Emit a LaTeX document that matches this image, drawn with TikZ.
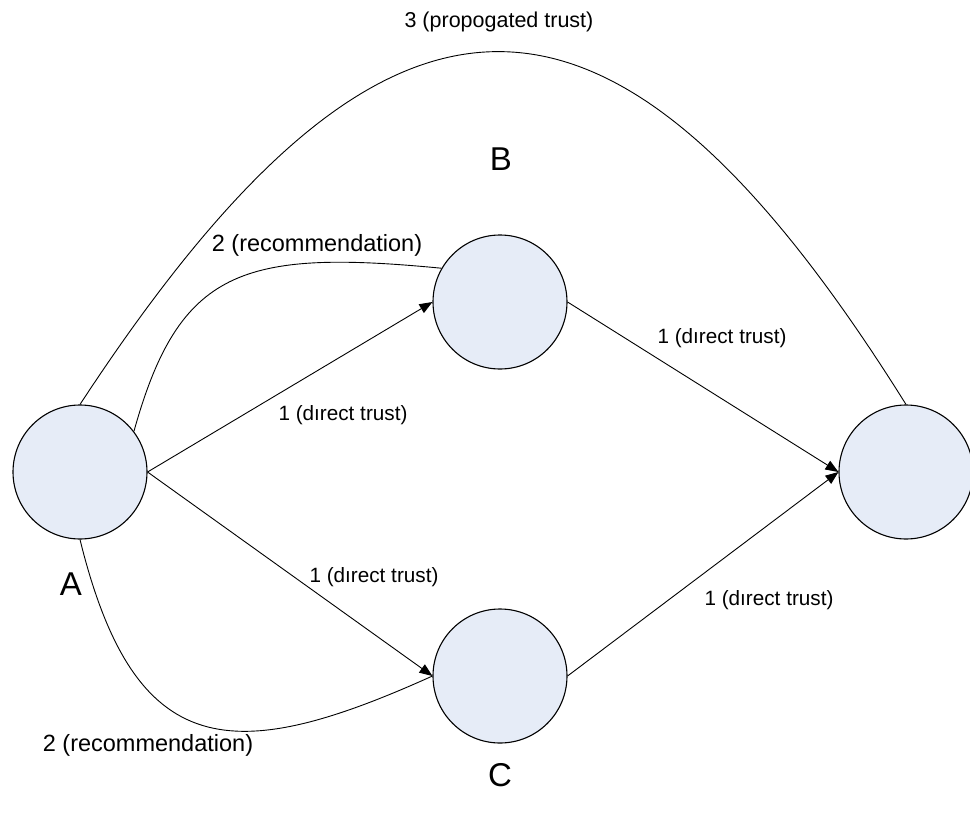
\documentclass[tikz,border=0pt]{standalone}
\usepackage{fontspec}
\setmainfont{Liberation Sans}
\usetikzlibrary{arrows.meta}
\definecolor{nodefill}{RGB}{230,236,247}
\tikzset{
  peer/.style={circle, draw=black, line width=1.1pt, fill=nodefill,
    minimum size=134pt, inner sep=0pt},
  link/.style={draw=black, line width=0.9pt},
  trust/.style={link, -{Triangle[length=13pt,width=10pt]}},
  lbl/.style={inner sep=0pt, font=\fontsize{20.7}{24}\selectfont},
  reclbl/.style={inner sep=0pt, font=\fontsize{23.5}{28}\selectfont},
  proplbl/.style={inner sep=0pt, font=\fontsize{21.5}{26}\selectfont},
  letter/.style={inner sep=0pt, font=\fontsize{33}{40}\selectfont}
}
\begin{document}
\begin{tikzpicture}[x=1pt,y=-1pt]
  \useasboundingbox (0,0) rectangle (970,814);
  \fill[white] (0,0) rectangle (970,814);

  % peers
  \node[peer] (a) at (80,472) {};
  \node[peer] (b) at (500,302) {};
  \node[peer] (c) at (500,676) {};
  \node[peer] (d) at (906,472) {};

  % direct trust
  \draw[trust] (a.east) -- (b.west);
  \draw[trust] (a.east) -- (c.west);
  \draw[trust] (b.east) -- (d.west);
  \draw[trust] (c.east) -- (d.west);

  % recommendations
  \draw[link] (a.37) .. controls (179,269) and (242,249) .. (b.150);
  \draw[link] (a.south) .. controls (135,763) and (233,766) .. (c.west);

  % propagated trust
  \draw[link] (a.north) .. controls (388,-66) and (612,-66) .. (d.north);

  % labels
  \node[proplbl] (lprop) at (499,22) {3 (propogated trust)};
  \node[reclbl] (lrec1) at (317,245) {2 (recommendation)};
  \node[reclbl] (lrec2) at (148,745) {2 (recommendation)};
  \node[lbl] (lab) at (343,415) {1 (dırect trust)};
  \node[lbl] (lbd) at (722,338) {1 (dırect trust)};
  \node[lbl] (lac) at (374,577) {1 (dırect trust)};
  \node[lbl] (lcd) at (769,600) {1 (dırect trust)};

  \node[letter] (na) at (71,584) {A};
  \node[letter] (nb) at (501,159) {B};
  \node[letter] (nc) at (500,775) {C};
\end{tikzpicture}
\end{document}
